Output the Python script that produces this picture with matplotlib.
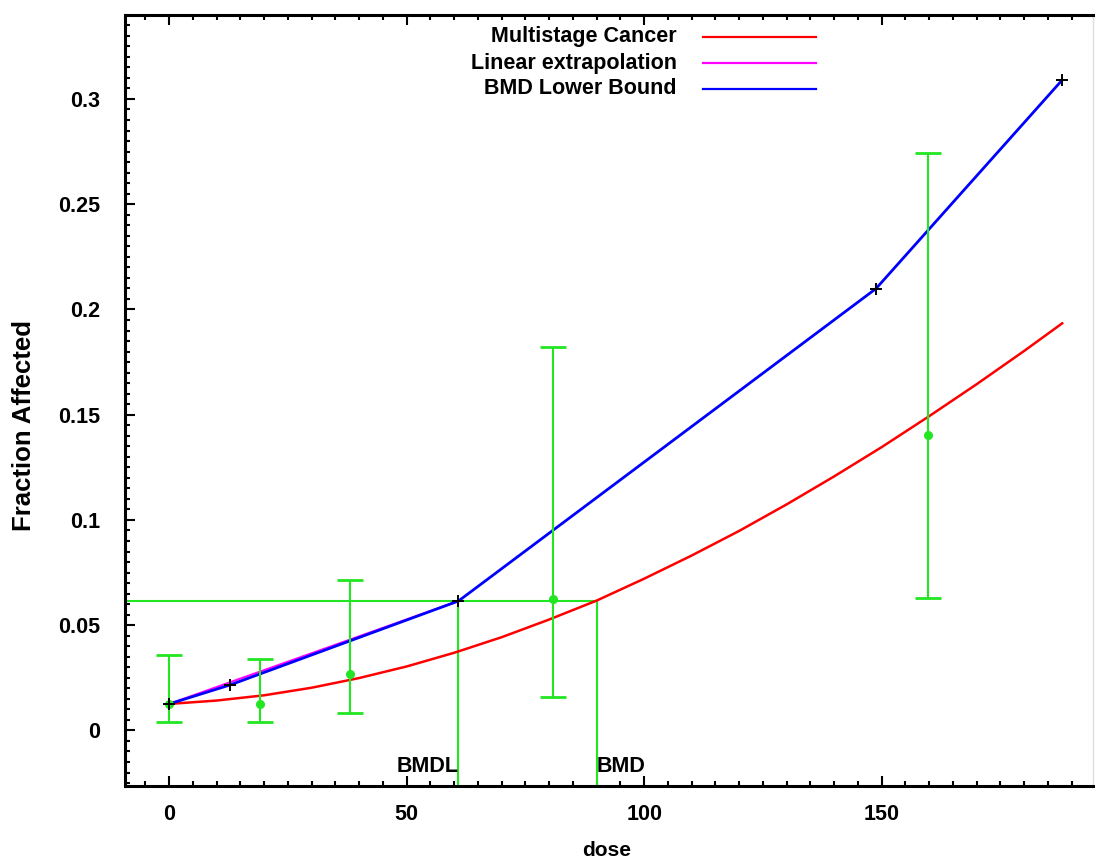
import matplotlib
matplotlib.use("Agg")
import matplotlib.pyplot as plt
from matplotlib.ticker import MultipleLocator

# Observed dose groups: fraction affected with lower / upper confidence limits
dose = [0.0, 19.2, 38.0, 80.8, 159.8]
frac = [0.0126, 0.0126, 0.0268, 0.0623, 0.1404]
frac_lo = [0.0040, 0.0040, 0.0082, 0.0161, 0.0628]
frac_hi = [0.0357, 0.0341, 0.0715, 0.1822, 0.2743]

# Fitted multistage cancer model curve
model_dose = [0, 10, 20, 30, 40, 50, 60, 70, 80, 90, 100, 110, 120,
              130, 140, 150, 160, 170, 180, 188]
model_frac = [0.0126, 0.0142, 0.0167, 0.0203, 0.0249, 0.0304, 0.0369,
              0.0443, 0.0527, 0.0617, 0.0721, 0.0831, 0.0948, 0.1074,
              0.1207, 0.1346, 0.1493, 0.1645, 0.1803, 0.1934]

# Lower bound curve on the dose axis (points marked with +)
lower_dose = [0.0, 12.8, 60.9, 148.8, 188.0]
lower_frac = [0.0126, 0.0216, 0.0615, 0.2099, 0.3090]

# Linear extrapolation from background to the BMDL
linear_dose = [0.0, 60.9]
linear_frac = [0.0126, 0.0615]

bmr_level = 0.0615
bmdl = 60.9
bmd = 90.0

series_labels = ["Multistage Cancer", "Linear extrapolation", "BMD Lower Bound"]
series_colors = ["#ff0000", "#ff00ff", "#0000ff"]
green = "#22e622"

x_ticks = [0, 50, 100, 150]
y_ticks = [0, 0.05, 0.1, 0.15, 0.2, 0.25, 0.3]
y_tick_labels = ["0", "0.05", "0.1", "0.15", "0.2", "0.25", "0.3"]

plt.rcParams["font.family"] = ["Liberation Sans", "DejaVu Sans"]
plt.rcParams["font.weight"] = "bold"

fig = plt.figure(figsize=(10.97, 8.61), dpi=100)
ax = fig.add_axes([0.114, 0.0871, 0.8824, 0.8955])

xmin, xmax = -9.3, 194.5
ymin, ymax = -0.0264, 0.3399
ax.set_xlim(xmin, xmax)
ax.set_ylim(ymin, ymax)

# BMR reference lines
ax.hlines(bmr_level, xmin, bmd, color=green, lw=1.5, zorder=2)
ax.vlines([bmdl, bmd], ymin, bmr_level, color=green, lw=1.5, zorder=2)

# Curves
ax.plot(model_dose, model_frac, color=series_colors[0], lw=1.8, zorder=3)
ax.plot(linear_dose, linear_frac, color=series_colors[1], lw=1.5, zorder=3)
ax.plot(lower_dose, lower_frac, color=series_colors[2], lw=2.0, zorder=4)
ax.plot(lower_dose, lower_frac, ls="none", marker="+", color="black",
        ms=8, mew=1.4, zorder=5)

# Data with confidence limits
yerr = [[f - lo for f, lo in zip(frac, frac_lo)],
        [hi - f for f, hi in zip(frac, frac_hi)]]
ax.errorbar(dose, frac, yerr=yerr, fmt="o", color=green, ms=5.5,
            elinewidth=1.5, capsize=9.4, capthick=2.0, zorder=4)

# BMD / BMDL annotations
ax.text(bmdl, -0.0172, "BMDL", ha="right", va="center", fontsize=15.5,
        fontweight="bold")
ax.text(bmd, -0.0172, "BMD", ha="left", va="center", fontsize=15.5,
        fontweight="bold")

# Key in the upper middle
key_rows = [0.9715, 0.9377, 0.904]
for lab, col, yr in zip(series_labels, series_colors, key_rows):
    ax.text(0.570, yr, lab, transform=ax.transAxes, ha="right", va="center",
            fontsize=15.5, fontweight="bold")
    ax.plot([0.597, 0.714], [yr, yr], transform=ax.transAxes, color=col,
            lw=1.6, clip_on=False)

# Axes styling
ax.set_xticks(x_ticks)
ax.set_xticklabels([str(t) for t in x_ticks])
ax.set_yticks(y_ticks)
ax.set_yticklabels(y_tick_labels)
ax.xaxis.set_minor_locator(MultipleLocator(5))
ax.yaxis.set_minor_locator(MultipleLocator(0.005))
ax.tick_params(which="both", direction="in", top=True, right=False,
               width=1.5, labelsize=15.5)
ax.tick_params(which="major", length=7)
ax.tick_params(which="minor", length=3.5)
ax.tick_params(axis="y", pad=18)
ax.tick_params(axis="x", pad=13)
for t in ax.get_xticklabels() + ax.get_yticklabels():
    t.set_fontweight("bold")

for side in ["left", "bottom", "top"]:
    ax.spines[side].set_linewidth(2.2)
ax.spines["right"].set_color("#dddddd")
ax.spines["right"].set_linewidth(1.0)

ax.set_ylabel("Fraction Affected", fontsize=18.5, fontweight="bold")
ax.yaxis.set_label_coords(-0.0919, 0.468)
ax.set_xlabel("dose", fontsize=15, fontweight="bold", va="center")
ax.xaxis.set_label_coords(0.498, -0.083)

fig.savefig("out.png", dpi=100)
